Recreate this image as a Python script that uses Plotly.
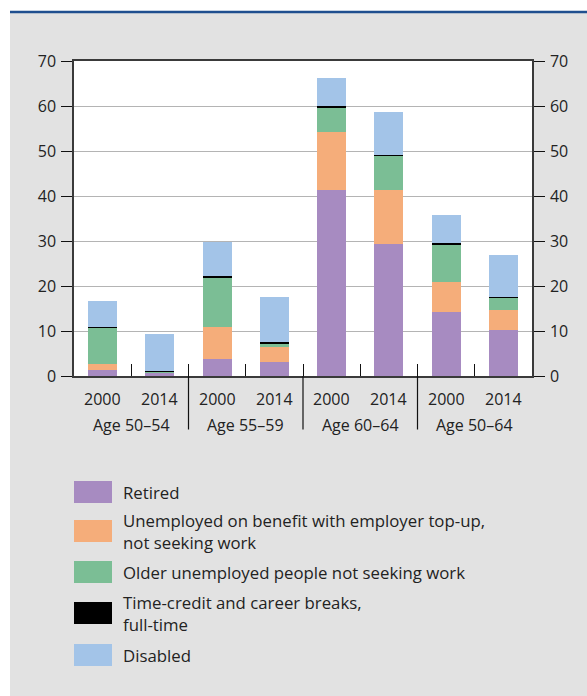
import plotly.graph_objects as go

# Share of the population by inactivity status, Belgium (per cent)
age_groups = ["Age 50–54", "Age 50–54", "Age 55–59", "Age 55–59",
              "Age 60–64", "Age 60–64", "Age 50–64", "Age 50–64"]
years = ["2000", "2014", "2000", "2014", "2000", "2014", "2000", "2014"]
group_labels = ["Age 50–54", "Age 55–59", "Age 60–64", "Age 50–64"]

series_names = [
    "Retired",
    "Unemployed on benefit with employer top-up,<br>not seeking work",
    "Older unemployed people not seeking work",
    "Time-credit and career breaks,<br>full-time",
    "Disabled",
]
retired = [1.3, 0.7, 3.8, 3.1, 41.3, 29.4, 14.2, 10.2]
topup = [1.4, 0.1, 7.1, 3.3, 12.9, 11.9, 6.7, 4.5]
older_unemployed = [8.0, 0.1, 11.0, 0.8, 5.4, 7.8, 8.3, 2.8]
time_credit = [0.3, 0.3, 0.3, 0.3, 0.3, 0.1, 0.4, 0.1]
disabled = [5.7, 8.1, 7.6, 10.1, 6.3, 9.5, 6.2, 9.3]
series_values = [retired, topup, older_unemployed, time_credit, disabled]
colors = ["#a78bc1", "#f5ad7a", "#7bbe95", "#000000", "#a3c4e8"]

y_ticks = [0, 10, 20, 30, 40, 50, 60, 70]

FONT = "Open Sans"
TEXT = "#222222"
AXIS = "#3a3a3a"

W, H = 587, 696
ML, MR, MT, MB = 74, 55, 61, 320
PW, PH = W - ML - MR, H - MT - MB


def px_x(px):
    return (px - ML) / PW


def px_y(py):
    return (H - MB - py) / PH


fig = go.Figure()
for name, vals, col in zip(series_names, series_values, colors):
    fig.add_trace(go.Bar(
        x=[age_groups, years], y=vals, name=name,
        marker=dict(color=col, line=dict(width=0)),
        showlegend=False,
    ))

# invisible companion trace so the right-hand value axis is drawn
fig.add_trace(go.Scatter(
    x=[age_groups, years], y=retired, yaxis="y2", mode="markers",
    marker=dict(opacity=0), hoverinfo="skip", showlegend=False,
))

shapes = [
    # white margins around the grey panel
    dict(type="rect", xref="paper", yref="paper", x0=px_x(0), x1=px_x(10),
         y0=px_y(H), y1=px_y(0), fillcolor="white", line=dict(width=0), layer="below"),
    dict(type="rect", xref="paper", yref="paper", x0=px_x(0), x1=px_x(W),
         y0=px_y(11), y1=px_y(0), fillcolor="white", line=dict(width=0), layer="below"),
    # blue rule across the top
    dict(type="line", xref="paper", yref="paper", x0=px_x(10), x1=px_x(W),
         y0=px_y(12), y1=px_y(12), line=dict(color="#1f4f8f", width=2.5)),
]

annotations = []

# category labels: years under each bar, age band under each pair
n = len(years)
for i, yr in enumerate(years):
    annotations.append(dict(xref="paper", yref="paper", x=(i + 0.5) / n, y=px_y(399),
                            xanchor="center", yanchor="middle", showarrow=False,
                            text=yr, font=dict(family=FONT, size=16, color=TEXT)))
for g, lab in enumerate(group_labels):
    annotations.append(dict(xref="paper", yref="paper", x=(2 * g + 1) / n, y=px_y(425),
                            xanchor="center", yanchor="middle", showarrow=False,
                            text=lab, font=dict(family=FONT, size=16, color=TEXT)))
    if g > 0:
        shapes.append(dict(type="line", xref="paper", yref="paper",
                           x0=2 * g / n, x1=2 * g / n, y0=px_y(376), y1=px_y(429.5),
                           line=dict(color="#111111", width=1.2)))

legend_centers = [492, 531, 572, 613, 655]
for name, col, cy in zip(series_names, colors, legend_centers):
    shapes.append(dict(type="rect", xref="paper", yref="paper",
                       x0=px_x(74), x1=px_x(112),
                       y0=px_y(cy + 11), y1=px_y(cy - 11),
                       fillcolor=col, line=dict(width=0)))
    annotations.append(dict(xref="paper", yref="paper", x=px_x(121), y=px_y(cy),
                            xanchor="left", yanchor="middle", align="left",
                            showarrow=False, text=name,
                            font=dict(family=FONT, size=16.8, color=TEXT)))

fig.update_layout(
    width=W, height=H,
    margin=dict(l=ML, r=MR, t=MT, b=MB, pad=0),
    paper_bgcolor="#e2e2e2",
    plot_bgcolor="white",
    barmode="stack",
    bargap=0.49,
    font=dict(family=FONT, size=16, color=TEXT),
    shapes=shapes,
    annotations=annotations,
    xaxis=dict(
        type="multicategory",
        showline=True, linecolor=AXIS, linewidth=1.5, mirror=True,
        ticks="inside", ticklen=12, tickcolor="#111111", tickwidth=1.2,
        showdividers=False, showticklabels=False,
        showgrid=False,
    ),
    yaxis=dict(
        range=[0, 70], tickvals=y_ticks,
        showgrid=True, gridcolor="#b4b4b4", gridwidth=1.2,
        zeroline=False,
        showline=True, linecolor=AXIS, linewidth=1.5,
        ticks="outside", ticklen=11, tickcolor="#111111", tickwidth=1.2,
        ticklabelstandoff=2,
        tickfont=dict(family=FONT, size=16, color=TEXT),
    ),
    yaxis2=dict(
        range=[0, 70], tickvals=y_ticks, overlaying="y", side="right",
        showgrid=False, zeroline=False,
        showline=True, linecolor=AXIS, linewidth=1.5,
        ticks="outside", ticklen=11, tickcolor="#111111", tickwidth=1.2,
        ticklabelstandoff=2,
        tickfont=dict(family=FONT, size=16, color=TEXT),
    ),
)

fig.write_html("out.html")
